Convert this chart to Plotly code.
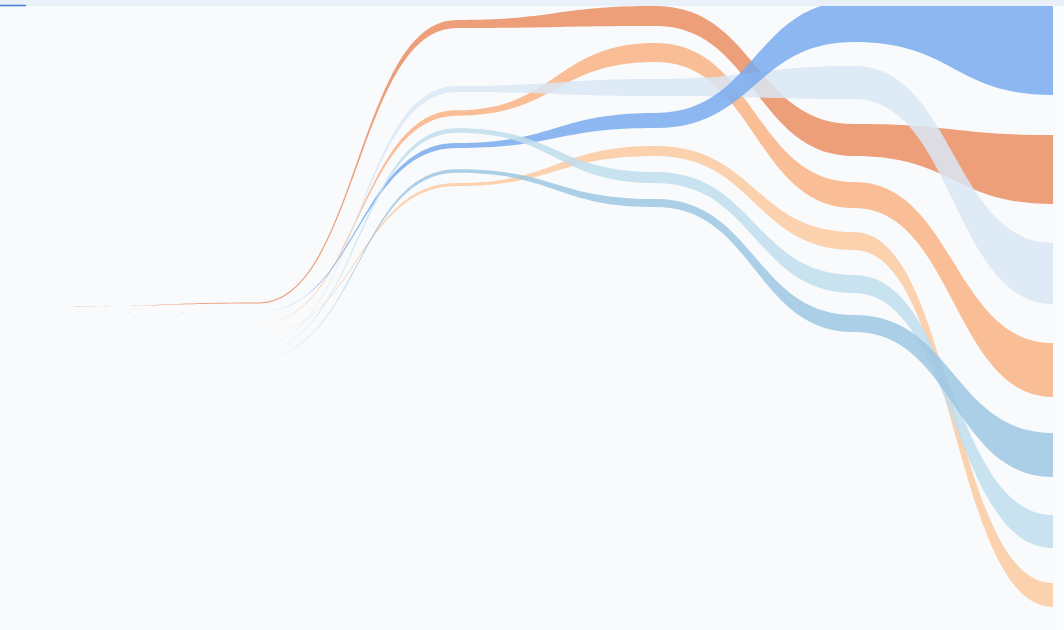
import plotly.graph_objects as go

# ---- data ----
time_steps = [0, 1, 2, 3, 4, 5]
series_names = ["Dark orange", "Orange", "Pale blue", "Blue", "Light orange", "Light blue", "Steel blue"]

# vertical position (centre of each ribbon) per time step
pos_dark_orange = [307, 303, 24, 16, 140, 169.5]
pos_orange = [324, 324, 113, 52.5, 195, 370]
pos_pale_blue = [345, 345, 89, 87.5, 82.5, 273.5]
pos_blue = [313, 312, 145.5, 120.5, 21.5, 46]
pos_light_orange = [334, 334, 184.5, 151, 241, 595]
pos_light_blue = [350, 350, 130.5, 177.5, 284, 531.5]
pos_steel_blue = [358, 358, 171, 203, 323.5, 455]

# ribbon thickness (value) per time step
val_dark_orange = [0, 1.2, 8, 20, 32, 69]
val_orange = [0, 0, 5.5, 19, 26, 54]
val_pale_blue = [0, 0, 6, 17, 33, 61]
val_blue = [0, 0, 5, 15, 41, 98]
val_light_orange = [0, 0, 3, 10, 18, 24]
val_light_blue = [0, 0, 4.5, 11, 18, 33]
val_steel_blue = [0, 0, 3.5, 8, 17, 44]

positions = [pos_dark_orange, pos_orange, pos_pale_blue, pos_blue,
             pos_light_orange, pos_light_blue, pos_steel_blue]
values = [val_dark_orange, val_orange, val_pale_blue, val_blue,
          val_light_orange, val_light_blue, val_steel_blue]

# ---- styles ----
BG = (248, 250, 252)
ALPHA = 0.85
shown_colors = [
    (237, 158, 122),
    (250, 190, 150),
    (222, 233, 245),
    (140, 182, 239),
    (252, 208, 174),
    (200, 225, 238),
    (170, 207, 230),
]


def base_color(shown):
    c = [round(min(255, max(0, b + (s - b) / ALPHA))) for s, b in zip(shown, BG)]
    return "rgb(%d,%d,%d)" % tuple(c)


def ribbon_path(xs, centers, widths):
    up = [c - w / 2 for c, w in zip(centers, widths)]
    lo = [c + w / 2 for c, w in zip(centers, widths)]
    d = "M %g,%g" % (xs[0], up[0])
    for i in range(1, len(xs)):
        xm = (xs[i - 1] + xs[i]) / 2
        d += " C %g,%g %g,%g %g,%g" % (xm, up[i - 1], xm, up[i], xs[i], up[i])
    d += " L %g,%g" % (xs[-1], lo[-1])
    for i in range(len(xs) - 1, 0, -1):
        xm = (xs[i - 1] + xs[i]) / 2
        d += " C %g,%g %g,%g %g,%g" % (xm, lo[i], xm, lo[i - 1], xs[i - 1], lo[i - 1])
    d += " Z"
    return d


fig = go.Figure()
shapes = []
for name, pos, val, col in zip(series_names, positions, values, shown_colors):
    fig.add_trace(go.Scatter(x=time_steps, y=pos, mode="lines", name=name,
                             line=dict(width=0, color=base_color(col)),
                             hoverinfo="skip", showlegend=False, opacity=0))
    shapes.append(dict(type="path", xref="x", yref="y",
                       path=ribbon_path(time_steps, pos, val),
                       fillcolor=base_color(col), opacity=ALPHA,
                       line=dict(width=0)))

W, H = 1064, 630
PLOT_W = 1053
TOP = 6
step_px = 198.75
x0_px = 59.25

# header strip
shapes.append(dict(type="rect", xref="paper", yref="paper",
                   x0=0, x1=W / PLOT_W, y0=1, y1=1 + TOP / (H - TOP),
                   fillcolor="#eaf0f8", line=dict(width=0), layer="above"))
shapes.append(dict(type="line", xref="paper", yref="paper",
                   x0=0, x1=26 / PLOT_W, y0=1 + 0.5 / (H - TOP), y1=1 + 0.5 / (H - TOP),
                   line=dict(color="#3b7dd8", width=1.5)))

fig.update_layout(
    width=W, height=H,
    margin=dict(l=0, r=W - PLOT_W, t=TOP, b=0, pad=0),
    paper_bgcolor="#fafbfc",
    plot_bgcolor="rgb(248,250,252)",
    shapes=shapes,
    showlegend=False,
    xaxis=dict(range=[-x0_px / step_px, 5], visible=False, showgrid=False, zeroline=False, fixedrange=True),
    yaxis=dict(range=[H, TOP], visible=False, showgrid=False, zeroline=False, fixedrange=True),
)

fig.write_html("out.html", config={"displayModeBar": False})
